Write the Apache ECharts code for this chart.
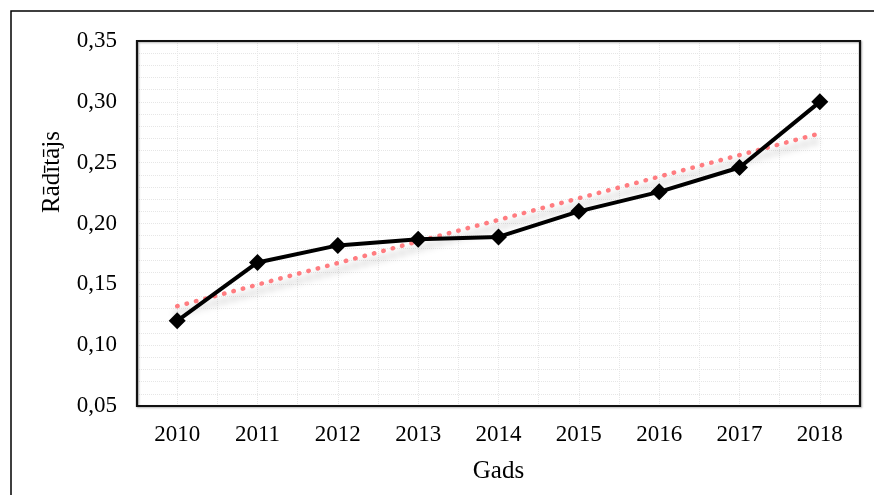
<!DOCTYPE html>
<html>
<head>
<meta charset="utf-8">
<script src="https://cdn.jsdelivr.net/npm/echarts@6/dist/echarts.min.js"></script>
<style>
html,body{margin:0;padding:0;background:#fff;}
#chart{width:874px;height:495px;}
</style>
</head>
<body>
<div id="chart"></div>
<script>
var years = ['2010','2011','2012','2013','2014','2015','2016','2017','2018'];
var values = [0.120, 0.168, 0.182, 0.187, 0.189, 0.210, 0.226, 0.246, 0.300];
var trendStart = ['2010', 0.132];
var trendEnd = ['2018', 0.274];
var yMin = 0.05, yMax = 0.35, yStep = 0.05;
var xTitle = 'Gads';
var yTitle = 'Rādītājs';

var FONT = '"Liberation Serif", "Times New Roman", serif';
var chart = echarts.init(document.getElementById('chart'));
var gridColor = '#e6e6e6';
var G = {left: 137, right: 14, top: 41, bottom: 89};
chart.setOption({
  backgroundColor: '#fff',
  animation: false,
  graphic: [
    {type: 'rect', z: -10, shape: {x: 11, y: 11, width: 900, height: 600},
     style: {fill: 'none', stroke: '#000', lineWidth: 1.5}},
    {type: 'rect', z: 100, shape: {x: G.left, y: G.top, width: 874 - G.left - G.right, height: 495 - G.top - G.bottom},
     style: {fill: 'none', stroke: '#111', lineWidth: 2.2,
       shadowColor: 'rgba(0,0,0,0.3)', shadowBlur: 2, shadowOffsetX: 1, shadowOffsetY: 1}},
    {type: 'text', x: 52, y: 172, rotation: Math.PI / 2,
     style: {text: yTitle, font: '25px ' + FONT, fill: '#000', align: 'center', verticalAlign: 'middle'}}
  ],
  grid: {left: G.left, right: G.right, top: G.top, bottom: G.bottom, show: false},
  xAxis: [
    {type: 'category', data: years, boundaryGap: true,
     axisLine: {show: false}, axisTick: {show: false}, splitLine: {show: false},
     axisLabel: {fontFamily: FONT, fontSize: 23, color: '#000', margin: 17},
     name: xTitle, nameLocation: 'middle', nameGap: 53,
     nameTextStyle: {fontFamily: FONT, fontSize: 25, color: '#000'}},
    {type: 'value', min: 0, max: 18, interval: 1, position: 'bottom',
     axisLine: {show: false}, axisTick: {show: false}, axisLabel: {show: false},
     splitLine: {show: true, lineStyle: {color: gridColor, type: 'dotted', width: 1}}}
  ],
  yAxis: {type: 'value', min: yMin, max: yMax, interval: yStep,
    axisLine: {show: false}, axisTick: {show: false},
    axisLabel: {fontFamily: FONT, fontSize: 23, color: '#000', margin: 20,
      formatter: function (v) { return v.toFixed(2).replace('.', ','); }},
    splitLine: {show: true, lineStyle: {color: gridColor, type: 'dotted', width: 1}},
    minorTick: {show: false, splitNumber: 5},
    minorSplitLine: {show: true, lineStyle: {color: gridColor, type: 'dotted', width: 1}}
  },
  series: [
    {type: 'line', xAxisIndex: 0, data: [trendStart, trendEnd], symbol: 'none', z: 2,
     lineStyle: {color: '#ff7c80', width: 4.5, type: [0.5, 9.2], cap: 'round',
       shadowColor: 'rgba(0,0,0,0.35)', shadowBlur: 7, shadowOffsetY: 7}},
    {type: 'line', xAxisIndex: 0, data: values, symbol: 'diamond', symbolSize: 17, z: 3,
     lineStyle: {color: '#000', width: 4}, itemStyle: {color: '#000'}}
  ]
});
</script>
</body>
</html>
